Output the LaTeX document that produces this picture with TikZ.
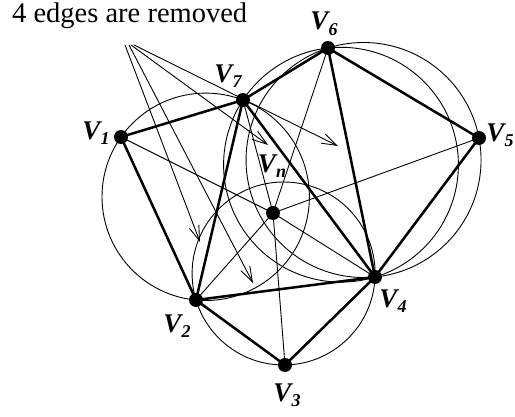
\documentclass[tikz,border=0pt]{standalone}
\usepackage{fontspec}
\setmainfont{Liberation Serif}
\usetikzlibrary{arrows.meta}
\newcommand{\Vsub}[1]{{\fontsize{27}{27}\selectfont\bfseries\itshape V}{\fontsize{18}{18}\selectfont\bfseries\itshape\raisebox{-5.5pt}{#1}}}
\begin{document}
\begin{tikzpicture}[x=1pt,y=-1pt,
  vtx/.style={circle,fill=black,inner sep=0pt,minimum size=14pt},
  thickedge/.style={line width=2.5pt},
  thinedge/.style={line width=0.9pt},
  circ/.style={line width=0.9pt},
  arr/.style={line width=0.9pt,-{Straight Barb[length=15pt,width=10pt,line width=0.9pt]}},
  lab/.style={inner sep=0pt}]
\useasboundingbox (0,0) rectangle (515,417);
% vertices
\node[vtx] (v1) at (121,137) {};
\node[vtx] (v7) at (243,100) {};
\node[vtx] (v6) at (328,48) {};
\node[vtx] (v5) at (479,138) {};
\node[vtx] (vn) at (273,213) {};
\node[vtx] (v4) at (375,277) {};
\node[vtx] (v2) at (196,300) {};
\node[vtx] (v3) at (285,365) {};
% circumcircle centres
\coordinate (c1) at (205.7,196.8);
\coordinate (c3) at (341.0,164.7);
\coordinate (c4) at (363.55,160.0);
\coordinate (c5) at (283.6,273.5);
\draw[circ] (c1) circle[radius=103.7];
\draw[circ] (c3) circle[radius=117.4];
\draw[circ] (c4) circle[radius=117.5];
\draw[circ] (c5) circle[radius=91.5];
% new edges from Vn
\draw[thinedge] (vn.center) -- (v1.center);
\draw[thinedge] (vn.center) -- (v7.center);
\draw[thinedge] (vn.center) -- (v6.center);
\draw[thinedge] (vn.center) -- (v5.center);
\draw[thinedge] (vn.center) -- (v4.center);
\draw[thinedge] (vn.center) -- (v3.center);
\draw[thinedge] (vn.center) -- (v2.center);
% old triangulation
\draw[thickedge] (v1.center) -- (v7.center) -- (v6.center) -- (v5.center) -- (v4.center) -- (v3.center) -- (v2.center) -- (v1.center);
\draw[thickedge] (v7.center) -- (v2.center) -- (v4.center) -- (v7.center);
\draw[thickedge] (v6.center) -- (v4.center);
% arrows
\coordinate (a1) at (125,45);
\coordinate (a2) at (129,45);
\coordinate (a3) at (131,45);
\coordinate (a4) at (134,45);
\coordinate (t1) at (200,242);
\coordinate (t2) at (253,283);
\coordinate (t3) at (268,145);
\coordinate (t4) at (338,146);
\draw[arr] (a1) -- (t1);
\draw[arr] (a2) -- (t2);
\draw[arr] (a3) -- (t3);
\draw[arr] (a4) -- (t4);
% labels
\node[anchor=base west,inner sep=0pt] (title) at (12,23) {\fontsize{28.5}{28.5}\selectfont 4 edges are removed};
\node[lab] (l1) at (96,133) {\Vsub{1}};
\node[lab] (l7) at (228,76) {\Vsub{7}};
\node[lab] (l6) at (324,24) {\Vsub{6}};
\node[lab] (l5) at (500,135) {\Vsub{5}};
\node[lab] (ln) at (272,166) {\Vsub{n}};
\node[lab] (l4) at (393,301) {\Vsub{4}};
\node[lab] (l2) at (177,326) {\Vsub{2}};
\node[lab] (l3) at (287,395) {\Vsub{3}};
\end{tikzpicture}
\end{document}
